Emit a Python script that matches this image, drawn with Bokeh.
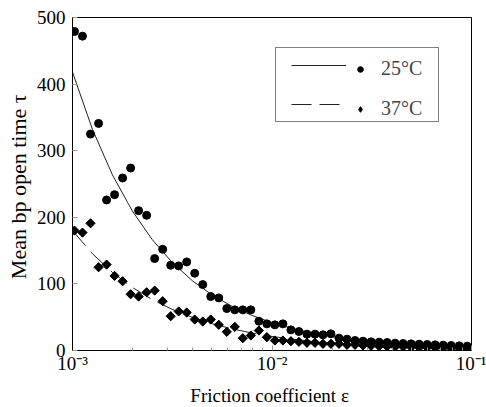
import math
from bokeh.plotting import figure
from bokeh.models import (Range1d, FixedTicker, CustomJSTickFormatter, Legend,
                          LegendItem)
from bokeh.embed import file_html
from bokeh.resources import INLINE
from bokeh.core.properties import value

# ---------------- data ----------------
eps = [0.001023, 0.001122, 0.001231, 0.001351, 0.001482, 0.001625, 0.001783,
       0.001956, 0.002145, 0.002353, 0.002581, 0.002832, 0.003106, 0.003407,
       0.003737, 0.004099, 0.004497, 0.004932, 0.005410, 0.005935, 0.006510,
       0.007141, 0.007833, 0.008592, 0.009425, 0.01034, 0.01134, 0.01244,
       0.01364, 0.01497, 0.01642, 0.01801, 0.01975, 0.02167, 0.02377, 0.02607,
       0.02860, 0.03137, 0.03441, 0.03775, 0.04141, 0.04542, 0.04982, 0.05465,
       0.05995, 0.06576, 0.07213, 0.07912, 0.08679, 0.09520]

tau_25 = [479, 472, 325, 341, 226, 234, 259, 274, 210, 203, 138, 152, 128, 127,
          133, 116, 99, 81, 79, 63, 61, 61, 61, 44, 40, 38.5, 40, 31, 28.5,
          24.5, 24.5, 23.5, 25, 18.5, 17, 15, 14, 13, 12.5, 12, 11, 10.5, 10,
          9.5, 9, 8.5, 8, 7.5, 7, 6.5]

tau_37 = [180, 177, 191, 125, 129, 112, 104, 84.5, 81, 87.5, 90, 74, 51.5,
          58.6, 57, 46.5, 43.5, 46.5, 38.6, 28, 35.5, 18.5, 22.5, 30, 20, 15,
          15, 14, 13, 11.5, 11.5, 10, 10, 10, 8.5, 8.5, 7.5, 7, 6.5, 6, 5.5,
          5.5, 5, 4.5, 4.5, 4, 4, 3.5, 3.5, 3]

fit_eps = [0.001, 0.001259, 0.001585, 0.001995, 0.002512, 0.003162, 0.003981,
           0.005012, 0.006310, 0.007943, 0.01, 0.01259, 0.01585, 0.01995,
           0.02512, 0.03162, 0.03981, 0.05012, 0.06310, 0.07943, 0.1]
fit_25 = [418, 332.0, 263.8, 209.5, 166.4, 132.2, 105.0, 83.4, 66.3, 52.6,
          41.8, 33.2, 26.4, 20.9, 16.6, 13.2, 10.5, 8.3, 6.6, 5.3, 4.2]
fit_37 = [180, 145.3, 117.3, 94.7, 76.4, 61.7, 49.8, 40.2, 32.5, 26.2, 21.1,
          17.1, 13.8, 11.1, 9.0, 7.3, 5.9, 4.7, 3.8, 3.1, 2.5]

x_ticks = [0.001, 0.01, 0.1]
x_tick_labels = ["10\u207b\u00b3", "10\u207b\u00b2", "10\u207b\u00b9"]
x_minor = [0.002, 0.003, 0.004, 0.005, 0.006, 0.007, 0.008, 0.009,
           0.02, 0.03, 0.04, 0.05, 0.06, 0.07, 0.08, 0.09]
y_ticks = [0, 100, 200, 300, 400, 500]
series_labels = ["25\u00b0C", "37\u00b0C"]
x_title = "Friction coefficient  \u03b5"
y_title = "Mean bp open time  \u03c4"

FONT = "Liberation Serif"

p = figure(frame_width=399, frame_height=333, x_axis_type="log",
           x_range=Range1d(1e-3, 1e-1), y_range=Range1d(0, 500),
           output_backend="svg", toolbar_location=None,
           min_border_left=72, min_border_right=15, min_border_top=17,
           min_border_bottom=57, background_fill_color="white",
           border_fill_color="white")

p.xgrid.visible = False
p.ygrid.visible = False
p.outline_line_color = "black"
p.outline_line_width = 1

p.xaxis.ticker = FixedTicker(ticks=x_ticks, minor_ticks=x_minor)
p.xaxis.formatter = CustomJSTickFormatter(
    args=dict(tick_values=x_ticks, tick_texts=x_tick_labels),
    code="""
const i = tick_values.findIndex(t => Math.abs(Math.log10(t) - Math.log10(tick)) < 1e-6);
return i >= 0 ? tick_texts[i] : "";
""")
p.yaxis.ticker = FixedTicker(ticks=y_ticks)

for ax in (p.xaxis[0], p.yaxis[0]):
    ax.axis_line_color = "black"
    ax.axis_line_width = 1
    ax.major_tick_in = 5
    ax.major_tick_out = 0
    ax.minor_tick_in = 3
    ax.minor_tick_out = 0
    ax.major_tick_line_color = "#999999"
    ax.minor_tick_line_color = "#999999"
    ax.major_label_text_font = FONT
    ax.major_label_text_font_size = "19px"
    ax.major_label_text_color = "black"
    ax.axis_label_text_font = FONT
    ax.axis_label_text_font_style = "normal"
    ax.axis_label_text_color = "black"
p.xaxis.major_label_standoff = 2
p.yaxis.major_label_standoff = 7
p.xaxis.axis_label = x_title
p.xaxis.axis_label_text_font_size = "19px"
p.xaxis.axis_label_standoff = 8
p.yaxis.axis_label = y_title
p.yaxis.axis_label_text_font_size = "22px"
p.yaxis.axis_label_standoff = 3

# fit curves
line25 = p.line(fit_eps, fit_25, line_color="#222222", line_width=1)
line37 = p.line(fit_eps, fit_37, line_color="#222222", line_width=1,
                line_dash="20 8")

# data points
pts25 = p.scatter(eps, tau_25, marker="circle", size=8, color="black")
# a diamond underlay (hidden under the rotated squares) gives the legend its glyph
dia37 = p.scatter(eps, tau_37, marker="diamond", size=8, color="black")
pts37 = p.scatter(eps, tau_37, marker="square", angle=math.pi / 4, size=6.5,
                  color="black")

legA = Legend(items=[LegendItem(label=value(" "), renderers=[line25]),
                     LegendItem(label=value(" "), renderers=[line37])],
              location=(203, 228), orientation="vertical", padding=15,
              spacing=35, glyph_width=55, glyph_height=4, label_height=4,
              label_text_font_size="1px", label_standoff=0, label_width=77,
              border_line_color="black", border_line_width=1,
              background_fill_color="white", background_fill_alpha=1,
              margin=0)
legB = Legend(items=[LegendItem(label=value(series_labels[0]), renderers=[pts25]),
                     LegendItem(label=value(series_labels[1]), renderers=[dia37])],
              location=(281, 230), orientation="vertical", padding=0,
              spacing=17, glyph_width=14, glyph_height=14, label_height=20,
              label_text_font=FONT, label_text_font_size="20px",
              label_standoff=14, border_line_alpha=0, background_fill_alpha=0,
              margin=0)
p.add_layout(legA, "center")
p.add_layout(legB, "center")

open("out.html", "w").write(file_html(p, INLINE))
